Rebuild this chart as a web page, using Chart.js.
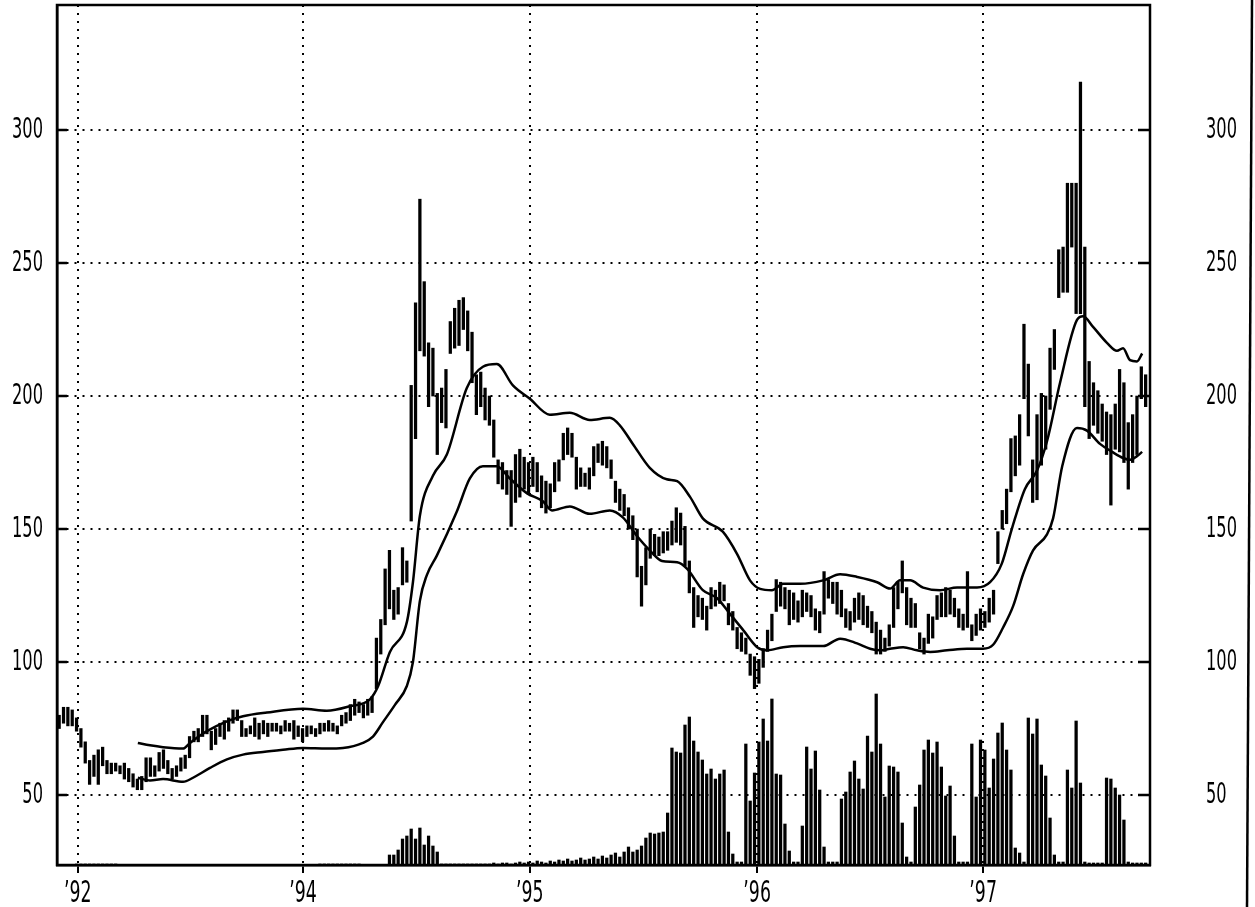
<!DOCTYPE html>
<html><head><meta charset="utf-8">
<script src="https://cdn.jsdelivr.net/npm/chart.js@4.4.1/dist/chart.umd.min.js"></script>
<style>html,body{margin:0;padding:0;background:#fff;}#wrap{width:1255px;height:907px;}</style>
</head><body><div id="wrap"><canvas id="c" width="1255" height="907"></canvas></div>
<script>
// weekly high-low bars, week index 0..250
const priceLow = [
75,77,76,76,74,68,62,54,57,54,
61,58,58,59,58,56,55,53,52,52,
55,57,57,59,60,58,56,57,59,60,
64,70,70,72,73,67,69,72,71,74,
77,78,72,72,73,72,71,73,72,74,
74,73,74,74,71,72,70,72,73,72,
73,74,74,74,73,76,77,78,80,81,
79,80,81,90,103,114,120,116,118,129,
130,153,184,217,215,196,200,178,190,188,
216,218,219,225,217,205,193,196,191,189,
177,167,165,163,151,160,162,165,163,166,
164,158,156,158,164,168,176,178,177,165,
166,166,165,170,175,174,173,169,160,157,
155,150,146,132,121,129,139,140,140,141,
142,144,145,144,136,126,113,117,116,112,
120,121,122,123,114,112,105,104,103,95,
90,92,98,104,108,119,121,120,114,116,
115,117,119,117,112,111,118,124,122,118,
117,113,112,115,116,114,113,111,103,103,
104,106,113,120,126,114,113,113,105,103,
107,109,116,117,117,118,117,113,112,113,
108,110,112,113,115,118,137,150,152,164,
170,174,199,185,160,161,174,180,195,210,
237,239,239,256,231,231,196,184,189,186,
183,178,159,180,179,175,165,175,178,199,
196];
const priceHigh = [
80,83,83,82,79,75,70,63,65,67,
68,63,62,62,61,62,60,58,56,57,
64,64,61,66,67,63,60,61,64,65,
72,74,75,80,80,74,75,77,78,79,
82,82,78,75,76,79,77,78,77,77,
77,76,78,77,78,76,75,76,76,75,
77,77,78,77,76,80,81,84,86,85,
84,86,87,109,116,135,142,127,128,143,
138,204,235,274,243,220,218,201,203,210,
228,233,236,237,232,224,208,209,203,200,
191,176,175,172,172,178,180,177,175,177,
175,170,168,167,175,176,186,188,186,177,
173,171,173,181,182,183,181,176,168,165,
163,158,155,150,136,143,150,148,147,149,
149,153,158,156,151,138,128,125,124,121,
128,127,130,129,122,119,113,111,109,103,
102,101,105,112,118,131,130,128,127,126,
123,127,126,125,120,119,134,131,130,130,
127,120,119,124,126,125,121,119,115,112,
109,114,128,130,138,128,124,122,111,109,
118,117,125,126,128,127,124,120,118,134,
114,118,120,119,124,127,149,157,165,184,
185,193,227,212,176,193,201,200,218,225,
255,256,280,280,280,318,256,213,205,202,
197,194,193,197,210,205,190,193,200,211,
208];
const volume = [
0,0,0,0,1,1,1,1,1,1,
1,1,1,1,0,0,0,0,0,0,
0,0,0,0,0,0,0,0,0,0,
0,0,0,0,0,0,0,0,0,0,
0,0,0,0,0,0,0,0,0,0,
0,0,0,0,0,0,0,0,0,0,
1,1,1,1,1,1,1,1,1,1,
0,0,0,0,0,0,10,10,15,26,
29,36,26,37,20,29,19,13,1,1,
1,1,1,1,1,1,1,1,1,1,
2,1,2,2,1,2,3,2,3,2,
4,3,2,4,3,5,4,6,4,5,
7,5,6,8,6,9,7,10,12,8,
13,18,13,15,19,27,32,31,32,33,
52,117,113,112,140,148,124,113,105,91,
96,86,91,95,33,11,3,3,121,64,
92,123,146,124,166,91,90,41,14,3,
3,39,118,96,114,75,18,3,3,3,
66,73,93,104,86,76,129,113,171,121,
68,99,98,93,42,8,3,58,80,115,
125,112,123,98,69,79,29,3,3,3,
121,68,125,115,77,106,132,142,115,95,
17,12,3,147,131,146,100,89,47,10,
3,3,95,77,144,82,3,2,2,2,
2,87,86,77,70,45,3,2,2,2,
2];
const upperBandWeeks = [18.1,20.9,23.9,28.5,30.1,34,38.6,42.3,47.8,56.1,61.6,66.9,71.5,73.4,76.1,80,81.4,83,86,89.2,93.8,97.5,100.7,104.4,108.3,112.9,117.5,122.1,126.7,129,132,135.9,139.8,142.2,145.2,148.1,152.7,156,159,161.3,164,166.6,170.5,175.8,179.7,183.6,188.2,191.2,193.5,195.8,198.8,202.7,206.6,211.2,214.2,216.9,219.2,222.2,225,227.3,230.3,234.2,235.6,237.9,241.1,243.4,244.8,246.4,248,249.2];
const upperBand = [69.6,68.7,68,67.5,69.6,74,77.7,79.6,81,82.4,81.7,83.4,86,91,103.8,115,130,155,170,178,203,211,212,204,199,193,193.7,191,191.8,189,182,173,168.7,168,162,154,149,140.6,130.6,127.5,127,129.4,129.4,130.7,133,132,130,127.6,130.7,130.7,128,127,128,128,130,137,150,165,172,183,205,228.6,230,226,220,217,218,213.5,213,216];
const lowerBandWeeks = [18.1,20.9,23.9,28.5,30.8,34.7,38.6,42.3,46.9,51.5,56.1,61.6,65.3,69.9,72.2,74.5,77.3,80,81.4,83,84.6,86.9,91.5,94.5,97.5,100.7,103.7,107.6,111.3,113.4,117.5,122.1,126.7,129.7,132.9,135.9,138.7,142.2,144.5,148.1,151.4,154.4,157.4,160.6,162.9,166.6,170.5,175.8,179.7,183.6,186.6,188.9,191.2,194.2,197.4,200.4,204.3,208.9,212.6,214.9,217.2,219.5,221.8,224.1,227.3,228.7,230.8,234.2,236.5,239.5,242.3,244.8,246.4,248,249.2];
const lowerBand = [56.5,55.5,56,55,56.5,60.2,63.4,65.2,66.2,67,67.7,67.5,67.7,69.6,72,77.4,84,91,100,123,132.7,140,156.6,169,173.6,173.6,169,163.5,160.4,157,158.5,155.7,157,154.4,147.5,142,138,137.5,135,127,124,118,112,105.6,104.4,105.6,106,106,108.8,107,105,104.4,105,105.6,104.4,103.8,104.4,105,105,106.5,113,121,133,142,148,154,173.6,188,187,182,179,176.7,176,177.4,179];
const xTickWeeks = [4.3, 56.1, 108.3, 160.6, 212.6];
const xTickLabels = ["\u201992", "\u201994", "\u201995", "\u201996", "\u201997"];
const yTicks = [50, 100, 150, 200, 250, 300];
const Y_MIN = 23.7, Y_MAX = 347;
const X_MIN = -0.5, X_MAX = 251;
const VOL_MAX = 860;

const FONT = "'DejaVu Sans',sans-serif";
const INK = '#000';
const TEXT_CONDENSE = 0.56;

const canvas = document.getElementById('c');
const ctx2d = canvas.getContext('2d');
// narrow, plotter-like lettering: draw the same text horizontally condensed
const rawFillText = ctx2d.fillText;
ctx2d.fillText = function (text, x, y, maxWidth) {
  const w = this.measureText(text).width * TEXT_CONDENSE;
  return rawFillText.call(this, text, x, y, maxWidth === undefined ? w : Math.min(w, maxWidth));
};

const framePlugin = {
  id: 'frame',
  afterDraw(chart) {
    const {ctx, chartArea: a, scales} = chart;
    ctx.save();
    ctx.strokeStyle = INK;
    ctx.lineWidth = 2.5;
    ctx.setLineDash([]);
    ctx.strokeRect(a.left, a.top, a.right - a.left, a.bottom - a.top);
    yTicks.forEach(v => {
      const y = scales.y.getPixelForValue(v);
      ctx.beginPath();
      ctx.moveTo(a.left, y); ctx.lineTo(a.left + 10, y);
      ctx.moveTo(a.right, y); ctx.lineTo(a.right - 12, y);
      ctx.stroke();
    });
    ctx.beginPath();
    ctx.moveTo(chart.width - 3, 0);
    ctx.lineTo(chart.width - 8, chart.height);
    ctx.stroke();
    ctx.restore();
  }
};

const setYTicks = s => { s.ticks = yTicks.map(v => ({value: v})); };
const noPad = s => { s.paddingTop = 0; s.paddingBottom = 0; s.paddingLeft = 0; s.paddingRight = 0; };

new Chart(canvas, {
  type: 'bar',
  data: {
    datasets: [
      {
        type: 'line', label: 'upper band', yAxisID: 'y', order: 0,
        data: upperBandWeeks.map((w, i) => ({x: w, y: upperBand[i]})),
        borderColor: INK, borderWidth: 2.5, pointRadius: 0, cubicInterpolationMode: 'monotone', fill: false
      },
      {
        type: 'line', label: 'lower band', yAxisID: 'y', order: 0,
        data: lowerBandWeeks.map((w, i) => ({x: w, y: lowerBand[i]})),
        borderColor: INK, borderWidth: 2.5, pointRadius: 0, cubicInterpolationMode: 'monotone', fill: false
      },
      {
        type: 'bar', label: 'price', yAxisID: 'y', order: 1, grouped: false,
        data: priceLow.map((l, i) => ({x: i, y: [l, priceHigh[i]]})),
        backgroundColor: INK, borderWidth: 0, barThickness: 2.6
      },
      {
        type: 'bar', label: 'volume', yAxisID: 'yv', order: 2, grouped: false,
        data: volume.map((v, i) => ({x: i, y: v})),
        backgroundColor: INK, borderWidth: 0, barThickness: 2.6
      }
    ]
  },
  options: {
    responsive: false,
    devicePixelRatio: 1,
    animation: false,
    layout: {padding: {top: 5, left: 0, right: 0, bottom: 0}},
    plugins: {legend: {display: false}, tooltip: {enabled: false}},
    scales: {
      x: {
        type: 'linear', min: X_MIN, max: X_MAX, offset: false,
        afterBuildTicks: s => { s.ticks = xTickWeeks.map(v => ({value: v})); },
        afterFit: s => { s.height = 42; noPad(s); },
        ticks: {
          autoSkip: false, maxRotation: 0, padding: 2, color: INK,
          font: {family: FONT, size: 31},
          callback: (v, i) => xTickLabels[i]
        },
        grid: {offset: false, color: INK, lineWidth: 2, drawTicks: true, tickLength: 8, tickColor: INK, tickWidth: 2},
        border: {display: true, color: INK, width: 2.5, dash: [2, 6]}
      },
      y: {
        type: 'linear', position: 'left', min: Y_MIN, max: Y_MAX,
        afterBuildTicks: setYTicks,
        afterFit: s => { s.width = 57; noPad(s); },
        ticks: {padding: 14, color: INK, font: {family: FONT, size: 29}, callback: v => String(v)},
        grid: {color: INK, lineWidth: 2, drawTicks: false},
        border: {display: true, color: INK, width: 2.5, dash: [2, 6]}
      },
      y2: {
        type: 'linear', position: 'right', min: Y_MIN, max: Y_MAX,
        afterBuildTicks: setYTicks,
        afterFit: s => { s.width = 105; noPad(s); },
        ticks: {padding: 56, crossAlign: 'near', color: INK, font: {family: FONT, size: 29}, callback: v => String(v)},
        grid: {drawOnChartArea: false, drawTicks: false},
        border: {display: false}
      },
      yv: {
        type: 'linear', display: false, min: 0, max: VOL_MAX
      }
    }
  },
  plugins: [framePlugin]
});
</script>
</body></html>
